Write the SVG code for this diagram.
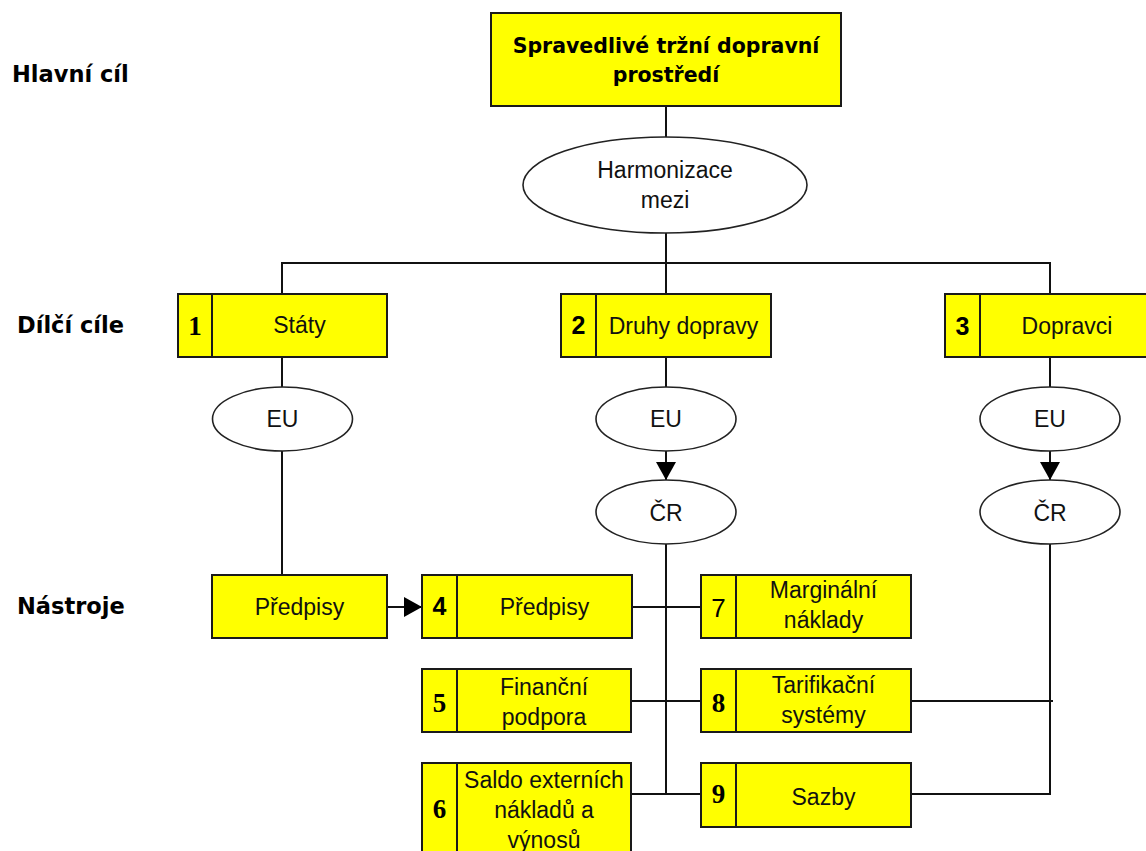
<svg xmlns="http://www.w3.org/2000/svg" width="1146" height="851" viewBox="0 0 1146 851">
<defs>
<style>
.box{fill:#ffff00;stroke:#1a1a1a;stroke-width:2}
.div{stroke:#1a1a1a;stroke-width:2}
.ell{fill:#ffffff;stroke:#222;stroke-width:1.6}
.t{font-family:"Liberation Sans",Arial,sans-serif;font-size:23px;fill:#111;text-anchor:middle}
.tb{font-family:"DejaVu Sans",Verdana,sans-serif;font-weight:bold;font-size:20.5px;fill:#000;text-anchor:middle}
.lab{font-family:"DejaVu Sans",Verdana,sans-serif;font-weight:bold;font-size:22.5px;fill:#000}
.ns{font-family:"Liberation Serif","Times New Roman",serif;font-weight:bold;font-size:27px;fill:#000;text-anchor:middle}
.nb{font-family:"Liberation Sans",Arial,sans-serif;font-weight:bold;font-size:25px;fill:#000;text-anchor:middle}
.nr{font-family:"Liberation Sans",Arial,sans-serif;font-size:26px;fill:#000;text-anchor:middle}
.c{fill:none;stroke:#111;stroke-width:2}
</style>
<marker id="arr" viewBox="0 0 10 10" refX="10" refY="5" markerWidth="10" markerHeight="10" markerUnits="userSpaceOnUse" orient="auto">
<path d="M0,0 L10,5 L0,10 Z" fill="#000"/>
</marker>
<marker id="arrB" viewBox="0 0 18 20" refX="18" refY="10" markerWidth="18" markerHeight="20" markerUnits="userSpaceOnUse" orient="auto">
<path d="M0,0 L18,10 L0,20 Z" fill="#000"/>
</marker>
</defs>
<rect width="1146" height="851" fill="#ffffff"/>

<g id="labels">
<text class="lab" x="12" y="82">Hlavní cíl</text>
<text class="lab" x="17" y="333">Dílčí cíle</text>
<text class="lab" x="17" y="614">Nástroje</text>
</g>

<g id="connectors">
<line class="c" x1="666" y1="106" x2="666" y2="137"/>
<line class="c" x1="666" y1="232" x2="666" y2="294"/>
<polyline class="c" points="282,294 282,263 1050,263 1050,294"/>
<line class="c" x1="282" y1="357" x2="282" y2="387"/>
<line class="c" x1="666" y1="357" x2="666" y2="387"/>
<line class="c" x1="1050" y1="357" x2="1050" y2="387"/>
<line class="c" x1="282" y1="451" x2="282" y2="575"/>
<line class="c" x1="666" y1="451" x2="666" y2="480" marker-end="url(#arrB)"/>
<line class="c" x1="1050" y1="451" x2="1050" y2="480" marker-end="url(#arrB)"/>
<line class="c" x1="387" y1="607" x2="422" y2="607" marker-end="url(#arrB)"/>
<line class="c" x1="666" y1="544" x2="666" y2="794"/>
<line class="c" x1="632" y1="607" x2="701" y2="607"/>
<line class="c" x1="627" y1="701" x2="701" y2="701"/>
<line class="c" x1="631" y1="794" x2="701" y2="794"/>
<line class="c" x1="911" y1="701" x2="1053" y2="701"/>
<polyline class="c" points="1050,544 1050,794 911,794"/>
</g>

<g id="goal">
<rect class="box" x="491" y="13" width="350" height="93"/>
<text class="tb" x="666" y="53">Spravedlivé tržní dopravní</text>
<text class="tb" x="666" y="82">prostředí</text>
</g>

<g id="harmonizace">
<ellipse class="ell" cx="665" cy="185" rx="142" ry="48"/>
<text class="t" x="665" y="178">Harmonizace</text>
<text class="t" x="665" y="208">mezi</text>
</g>

<g id="n1">
<rect class="box" x="178" y="294" width="209" height="63"/>
<line class="div" x1="212" y1="294" x2="212" y2="357"/>
<text class="ns" x="195" y="335">1</text>
<text class="t" x="299.5" y="333">Státy</text>
</g>

<g id="n2">
<rect class="box" x="561" y="294" width="210" height="63"/>
<line class="div" x1="596" y1="294" x2="596" y2="357"/>
<text class="nb" x="578.5" y="334">2</text>
<text class="t" x="683.5" y="334">Druhy dopravy</text>
</g>

<g id="n3">
<rect class="box" x="945" y="294" width="215" height="63"/>
<line class="div" x1="980" y1="294" x2="980" y2="357"/>
<text class="nb" x="962.5" y="335">3</text>
<text class="t" x="1067" y="334">Dopravci</text>
</g>

<g id="eu1">
<ellipse class="ell" cx="282.5" cy="419" rx="70" ry="32"/>
<text class="t" x="282.5" y="427">EU</text>
</g>
<g id="eu2">
<ellipse class="ell" cx="666" cy="419" rx="70" ry="32"/>
<text class="t" x="666" y="427">EU</text>
</g>
<g id="eu3">
<ellipse class="ell" cx="1050" cy="419" rx="70" ry="32"/>
<text class="t" x="1050" y="427">EU</text>
</g>
<g id="cr2">
<ellipse class="ell" cx="666" cy="512" rx="70" ry="32"/>
<text class="t" x="666" y="521">ČR</text>
</g>
<g id="cr3">
<ellipse class="ell" cx="1050" cy="512" rx="70" ry="32"/>
<text class="t" x="1050" y="521">ČR</text>
</g>

<g id="predpisy">
<rect class="box" x="212" y="575" width="175" height="63"/>
<text class="t" x="299.5" y="615">Předpisy</text>
</g>

<g id="n4">
<rect class="box" x="422" y="575" width="210" height="63"/>
<line class="div" x1="457" y1="575" x2="457" y2="638"/>
<text class="nb" x="439.5" y="615">4</text>
<text class="t" x="544.5" y="615">Předpisy</text>
</g>

<g id="n5">
<rect class="box" x="422" y="669" width="209" height="63"/>
<line class="div" x1="457" y1="669" x2="457" y2="732"/>
<text class="ns" x="439.5" y="712">5</text>
<text class="t" x="544" y="695">Finanční</text>
<text class="t" x="544" y="725">podpora</text>
</g>

<g id="n6">
<rect class="box" x="422" y="763" width="209" height="95"/>
<line class="div" x1="457" y1="763" x2="457" y2="858"/>
<text class="ns" x="439.5" y="818">6</text>
<text class="t" x="544" y="788">Saldo externích</text>
<text class="t" x="544" y="818">nákladů a</text>
<text class="t" x="544" y="848">výnosů</text>
</g>

<g id="n7">
<rect class="box" x="701" y="575" width="210" height="63"/>
<line class="div" x1="736" y1="575" x2="736" y2="638"/>
<text class="nr" x="718.5" y="617">7</text>
<text class="t" x="823.5" y="598">Marginální</text>
<text class="t" x="823.5" y="628">náklady</text>
</g>

<g id="n8">
<rect class="box" x="701" y="669" width="210" height="63"/>
<line class="div" x1="736" y1="669" x2="736" y2="732"/>
<text class="ns" x="718.5" y="712">8</text>
<text class="t" x="823.5" y="693">Tarifikační</text>
<text class="t" x="823.5" y="723">systémy</text>
</g>

<g id="n9">
<rect class="box" x="701" y="763" width="210" height="64"/>
<line class="div" x1="736" y1="763" x2="736" y2="827"/>
<text class="ns" x="718.5" y="803">9</text>
<text class="t" x="823.5" y="805">Sazby</text>
</g>
</svg>
